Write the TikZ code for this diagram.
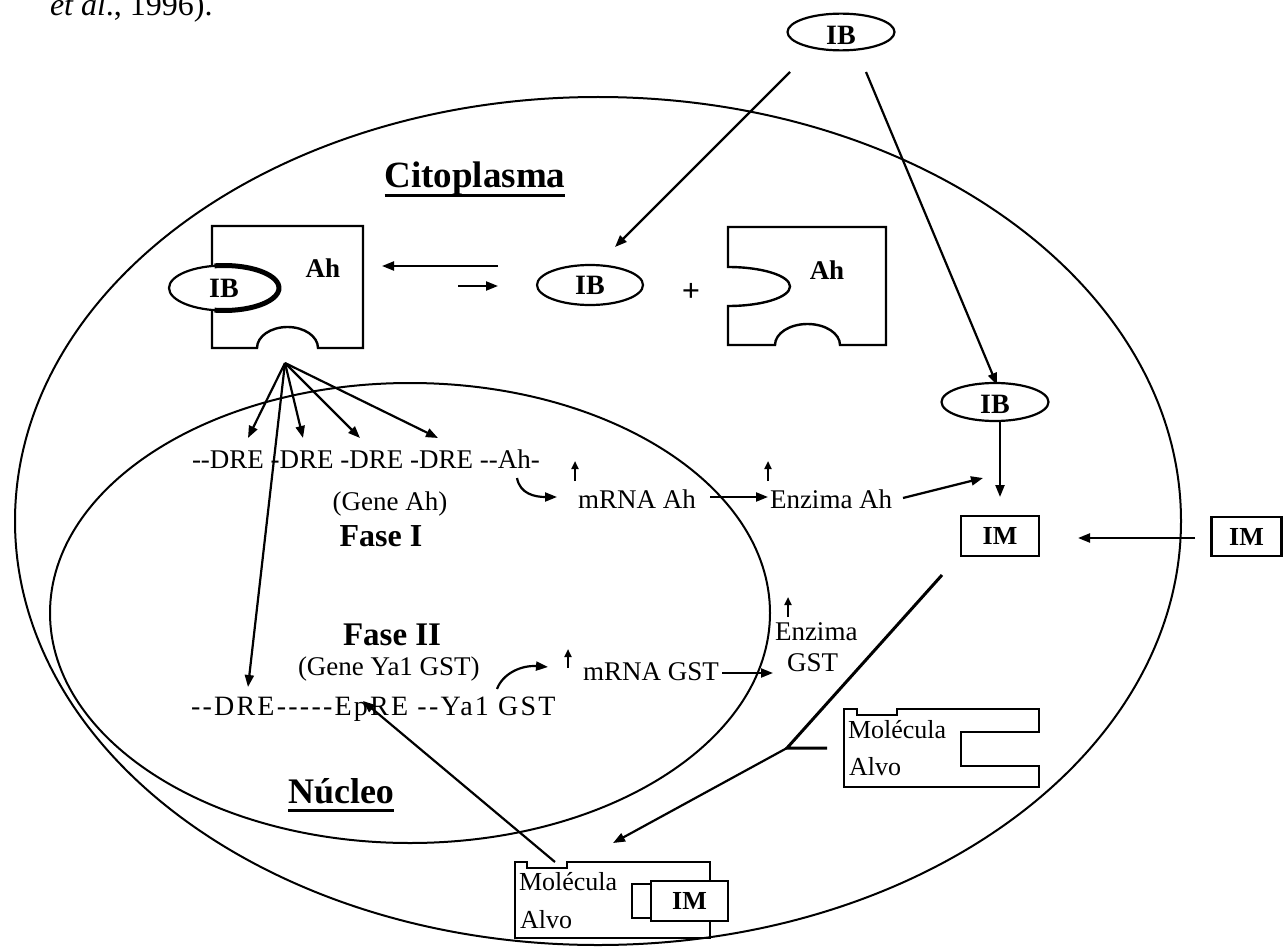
\documentclass[tikz,border=0pt]{standalone}
\usepackage{fontspec}
\setmainfont[Ligatures=TeXOff]{Liberation Serif}
\usetikzlibrary{arrows.meta,shapes.geometric}

\begin{document}
\begin{tikzpicture}[x=1pt,y=-1pt,
  every node/.style={inner sep=0pt,outer sep=0pt},
  wall/.style={line width=2pt},
  part/.style={line width=2.4pt,line join=miter},
  link/.style={line width=2.2pt,-{Triangle[length=12pt,width=9pt]}},
  tick/.style={line width=2pt,-{Triangle[length=8pt,width=7pt]}},
  txt/.style={font=\fontsize{27}{30}\selectfont,anchor=base west},
  mol/.style={font=\fontsize{26}{30}\selectfont,anchor=base west},
  bold/.style={font=\fontsize{27}{30}\selectfont\bfseries},
  ligand/.style={ellipse,draw,line width=2.2pt,fill=white,
    minimum width=107pt,minimum height=36pt,font=\fontsize{28}{30}\selectfont\bfseries},
  imbox/.style={draw,line width=2.4pt,fill=white,minimum width=78pt,minimum height=40pt,
    font=\fontsize{26}{30}\selectfont\bfseries},
  title/.style={font=\fontsize{37}{40}\selectfont\bfseries,anchor=base}
]
\useasboundingbox (0,0) rectangle (1284,952);

% caption fragment at the top
\node[anchor=base west,font=\fontsize{32}{34}\selectfont] (cap) at (50,16) {\textit{et al}., 1996).};

% cell and nucleus
\draw[wall] (598,521) ellipse [x radius=583,y radius=424];
\draw[wall] (410,613) ellipse [x radius=360,y radius=230];

% compartment titles
\node[title] (cito) at (475,188) {Citoplasma};
\draw[line width=3pt] ([yshift=-8pt]cito.base west) -- ([yshift=-8pt]cito.base east);
\node[title,font=\fontsize{36}{40}\selectfont\bfseries] (nucl) at (341,803) {Núcleo};
\draw[line width=3pt] ([yshift=-7pt]nucl.base west) -- ([yshift=-7pt]nucl.base east);

% ligand outside the cell
\node[ligand,minimum height=35pt,text height=26pt,text depth=0pt] (ibtop) at (841,32) {IB};

% receptor with bound ligand
\draw[part] (212,226) -- (363,226) -- (363,348) -- (318,348)
  arc[start angle=0,end angle=-180,x radius=30.5,y radius=21] -- (212,348) -- cycle;
\node[ligand,minimum width=110pt,minimum height=45pt] (ibc) at (224,288) {IB};
\draw[line width=5pt] (214.45,265.84) arc[start angle=-100,end angle=100,x radius=55,y radius=22.5];
\node[bold] (ahc) at (323,268) {Ah};

% equilibrium arrows
\coordinate (eqa) at (498,266); \coordinate (eqb) at (382,266);
\coordinate (eqc) at (458,286); \coordinate (eqd) at (498,286);
\draw[link] (eqa) -- (eqb);
\draw[link] (eqc) -- (eqd);

% free ligand + free receptor
\node[ligand,minimum width=106pt,minimum height=40pt] (ibf) at (590,285) {IB};
\node[font=\fontsize{32}{32}\selectfont\bfseries] (plus) at (691,292) {+};
\draw[part] (728,267) -- (728,227) -- (886,227) -- (886,345) -- (840,345)
  arc[start angle=0,end angle=-180,x radius=32.5,y radius=21] -- (728,345) -- (728,306)
  arc[start angle=90,end angle=-90,x radius=62,y radius=19.5] -- cycle;
\node[bold] (ahf) at (827,270) {Ah};

% ligand entering the cell
\coordinate (ta) at (790,72); \coordinate (tb) at (615,247);
\coordinate (tc) at (866,72); \coordinate (td) at (997,385);
\draw[link] (ta) -- (tb);
\draw[link] (tc) -- (td);

% cytoplasmic ligand and its metabolite
\node[ligand,minimum height=38pt,text height=22pt,text depth=0pt] (ibm) at (995,402) {IB};
\node[imbox] (im) at (1000,536) {IM};
\node[imbox,minimum width=70pt,minimum height=39pt] (imout) at (1246.5,536.5) {IM};
\coordinate (ibmd) at (1000,421); \coordinate (imtop) at (1000,497);
\draw[link] (ibmd) -- (imtop);
\coordinate (imoa) at (1195,538); \coordinate (imob) at (1078,538);
\draw[link] (imoa) -- (imob);

% DRE binding sites (phase I gene)
\coordinate (fan) at (285,363);
\coordinate (d1) at (248,438); \coordinate (d2) at (303,438);
\coordinate (d3) at (360,438); \coordinate (d4) at (438,438);
\coordinate (d5) at (248,687);
\foreach \t in {d1,d2,d3,d4,d5} \draw[link] (fan) -- (\t);

\node[txt] (genea) at (192,468) {--DRE -DRE -DRE -DRE --Ah-};
\node[txt,anchor=base] (geneah) at (390,510) {(Gene Ah)};
\node[bold,anchor=base,font=\fontsize{32}{34}\selectfont\bfseries] (fase1) at (381,546) {Fase I};

\coordinate (ca) at (517,478); \coordinate (cb) at (557,497);
\draw[link] (ca) .. controls (520,494) and (535,497) .. (cb);
\node[txt] (mrnaah) at (578,508) {mRNA Ah};
\coordinate (u1a) at (575,481); \coordinate (u1b) at (575,461);
\draw[tick] (u1a) -- (u1b);
\coordinate (ma) at (710,497); \coordinate (mb) at (768,497);
\draw[link] (ma) -- (mb);
\node[txt] (enzah) at (770,508) {Enzima Ah};
\coordinate (u2a) at (768,481); \coordinate (u2b) at (768,461);
\draw[tick] (u2a) -- (u2b);
\coordinate (ea) at (903,498); \coordinate (eb) at (983,478);
\draw[link] (ea) -- (eb);

% phase II gene
\node[bold,anchor=base west,font=\fontsize{33}{34}\selectfont\bfseries] (fase2) at (343,645) {Fase II};
\node[txt] (geneya) at (298,675) {(Gene Ya1 GST)};
\node[txt,font=\fontsize{28}{30}\selectfont] (geneb) at (191,715) {\addfontfeature{LetterSpace=8}--DRE-----EpRE --Ya1 GST};
\coordinate (cc) at (497,689); \coordinate (cd) at (548,667);
\draw[link] (cc) .. controls (503,673) and (522,665) .. (cd);
\coordinate (u3a) at (568,668); \coordinate (u3b) at (568,649);
\draw[tick] (u3a) -- (u3b);
\node[txt] (mrnagst) at (583,680) {mRNA GST};
\coordinate (ga) at (722,673); \coordinate (gb) at (773,673);
\draw[link] (ga) -- (gb);
\node[txt] (enzg1) at (775,640) {Enzima};
\node[txt] (enzg2) at (787,671) {GST};
\coordinate (u4a) at (788,617); \coordinate (u4b) at (788,597);
\draw[tick] (u4a) -- (u4b);

% target molecule, free
\draw[part] (844,709) -- (857,709) -- (857,715) -- (897,715) -- (897,709) -- (1039,709)
  -- (1039,732) -- (961,732) -- (961,766) -- (1039,766) -- (1039,787) -- (844,787) -- cycle;
\node[mol] (mola) at (848,738) {Molécula};
\node[mol] (alva) at (849,775) {Alvo};

% target molecule with bound metabolite
\draw[part] (515,862) -- (527,862) -- (527,868) -- (567,868) -- (567,862) -- (710,862)
  -- (710,884) -- (632,884) -- (632,918) -- (710,918) -- (710,938) -- (515,938) -- cycle;
\node[imbox,minimum width=77pt,minimum height=40pt] (imb) at (689.5,901) {IM};
\node[mol] (molb) at (519,890) {Molécula};
\node[mol] (alvb) at (520,928) {Alvo};

% metabolite routes
\coordinate (imleave) at (942,575);
\coordinate (junc) at (787,748);
\coordinate (stub) at (827,748);
\coordinate (molbtip) at (613,843);
\draw[line width=3pt] (imleave) -- (junc) -- (stub);
\draw[link] (junc) -- (molbtip);
\coordinate (notch) at (555,862); \coordinate (eptip) at (363,701);
\draw[link] (notch) -- (eptip);
\end{tikzpicture}
\end{document}
